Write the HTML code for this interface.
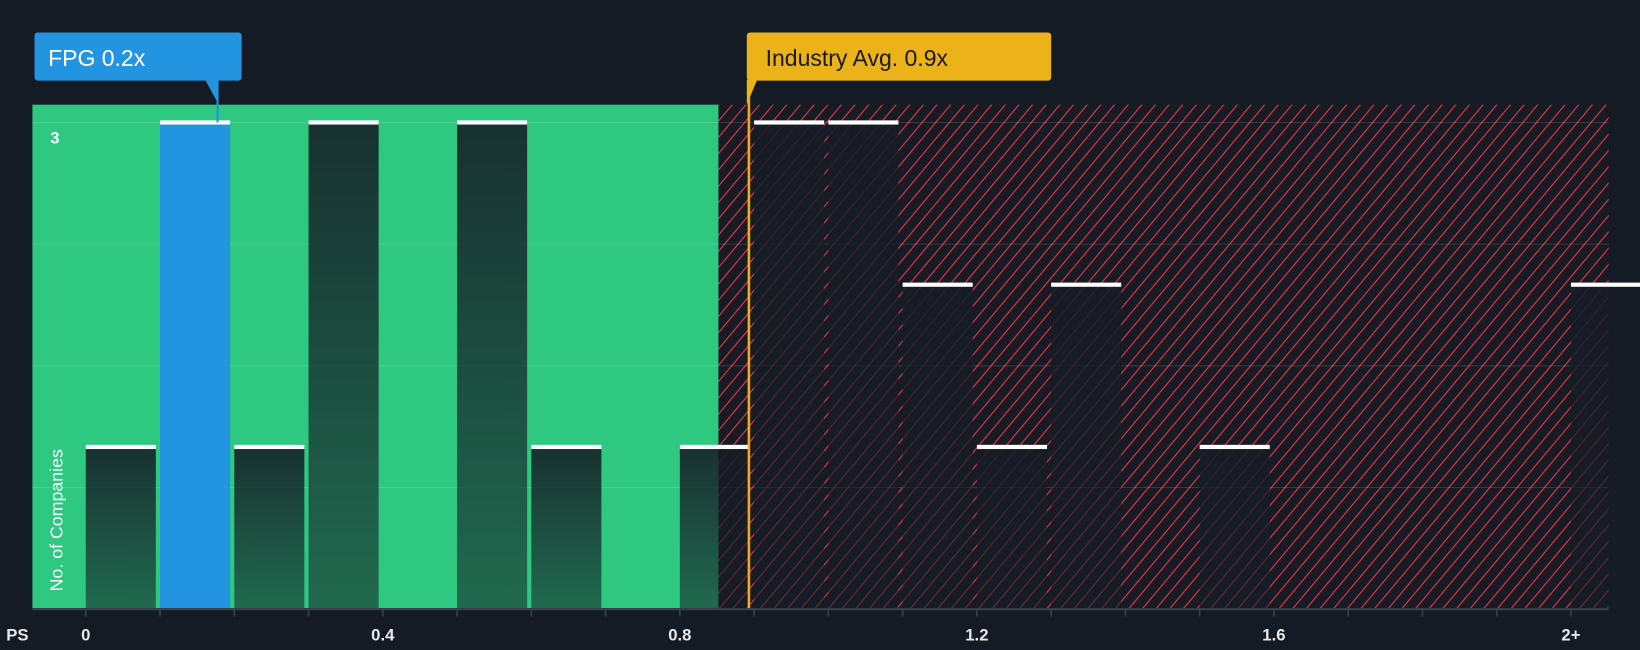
<!DOCTYPE html>
<html><head><meta charset="utf-8"><style>
html,body{margin:0;padding:0;background:#151b24;}
svg{display:block;font-family:"Liberation Sans",sans-serif;}
</style></head><body>
<svg width="1640" height="650" viewBox="0 0 1568 621" preserveAspectRatio="none">
<defs>
<pattern id="hatch" patternUnits="userSpaceOnUse" width="10" height="10" patternTransform="rotate(40)">
<rect width="10" height="10" fill="#181b25"/>
<line x1="0" y1="0" x2="0" y2="10" stroke="#d93a3d" stroke-width="2.2"/>
</pattern>
<linearGradient id="barg" x1="0" y1="0" x2="0" y2="1">
<stop offset="0" stop-color="#151c26" stop-opacity="0.88"/>
<stop offset="1" stop-color="#151c26" stop-opacity="0.55"/>
</linearGradient>
</defs>
<rect width="1568" height="621" fill="#151b24"/>
<g id="plot"></g>
</svg>
<script>
const bins=[0,0.1,0.2,0.3,0.4,0.5,0.6,0.7,0.8,0.9,1.0,1.1,1.2,1.3,1.4,1.5,1.6,1.7,1.8,1.9,2.0];
const counts=[1,3,1,3,0,3,1,0,1,3,3,2,1,2,0,1,0,0,0,0,2];
const companyValue=0.18;
const industryAvg=0.893;
const fairEnd=0.852;
const tickLabels=["0","0.4","0.8","1.2","1.6","2+"];
const tickValues=[0,0.4,0.8,1.2,1.6,2.0];
const gridValues=[0.75,1.5,2.25,3];

const NS="http://www.w3.org/2000/svg";
const g=document.getElementById('plot');
const L=31,R=1538,T=100,B=581;
const X=v=>82+v*710;
const Y=c=>582-c*155;
function mk(tag,a){const e=document.createElementNS(NS,tag);for(const k in a)e.setAttribute(k,a[k]);g.appendChild(e);return e;}
let e;
e=mk('rect',{x:L,y:T,width:X(fairEnd)-L,height:B-T,fill:'#2ec880'});


e=mk('rect',{x:X(fairEnd),y:T,width:R-X(fairEnd),height:B-T,fill:'url(#hatch)'});


gridValues.forEach(v=>{e=mk('line',{x1:L,x2:R,y1:Y(v),y2:Y(v),stroke:'rgba(255,255,255,0.13)','stroke-width':1});

});
const bw=67;
bins.forEach((b,i)=>{const c=counts[i];if(!c)return;
const x=X(b),y=Y(c);
const isCo=companyValue>=b&&companyValue<b+0.1;
e=mk('rect',{x:x,y:y,width:bw,height:B-y,fill:isCo?'#2394e0':'url(#barg)'});


e=mk('rect',{x:x,y:y-2,width:bw,height:4,fill:'#ffffff'});

});
e=mk('line',{x1:L,x2:R,y1:B+1,y2:B+1,stroke:'#3a3f4a','stroke-width':2});


bins.forEach(b=>{e=mk('line',{x1:X(b),x2:X(b),y1:B,y2:B+8,stroke:'#3a3f4a','stroke-width':1.5});

});
tickValues.forEach((v,i)=>{e=mk('text',{x:X(v),y:612,fill:'#e8e8e8','font-size':16,'font-weight':'bold','text-anchor':'middle'});e.textContent=tickLabels[i];

});
e=mk('text',{x:6,y:612,fill:'#e8e8e8','font-size':16,'font-weight':'bold'});e.textContent='PS';


e=mk('text',{x:48,y:137,fill:'#ffffff','font-size':16,'font-weight':'bold'});e.textContent='3';


e=mk('text',{x:60,y:565,fill:'#ffffff','font-size':17,transform:'rotate(-90 60 565)'});e.textContent='No. of Companies';


// industry line
const ix=X(industryAvg);
e=mk('line',{x1:ix,x2:ix,y1:70,y2:B,stroke:'#f2a81d','stroke-width':2.5});


e=mk('path',{d:`M${ix-2} 76 L${ix-2} 100 L${ix+8} 76 Z`,fill:'#ebb21a'});


e=mk('rect',{x:ix-2,y:31,width:291,height:46,rx:3,fill:'#ebb21a'});


e=mk('text',{x:ix+16,y:63,fill:'#1a1a1a','font-size':22});e.textContent='Industry Avg. 0.9x';


// company label
const cx=208;
e=mk('line',{x1:cx,x2:cx,y1:77,y2:117,stroke:'#2394e0','stroke-width':2});


e=mk('path',{d:`M${cx-12} 76 L${cx} 76 L${cx} 98 Z`,fill:'#2394e0'});


e=mk('rect',{x:33,y:31,width:198,height:46,rx:3,fill:'#2394e0'});


e=mk('text',{x:46,y:63,fill:'#ffffff','font-size':22});e.textContent='FPG 0.2x';


</script>
</body></html>
